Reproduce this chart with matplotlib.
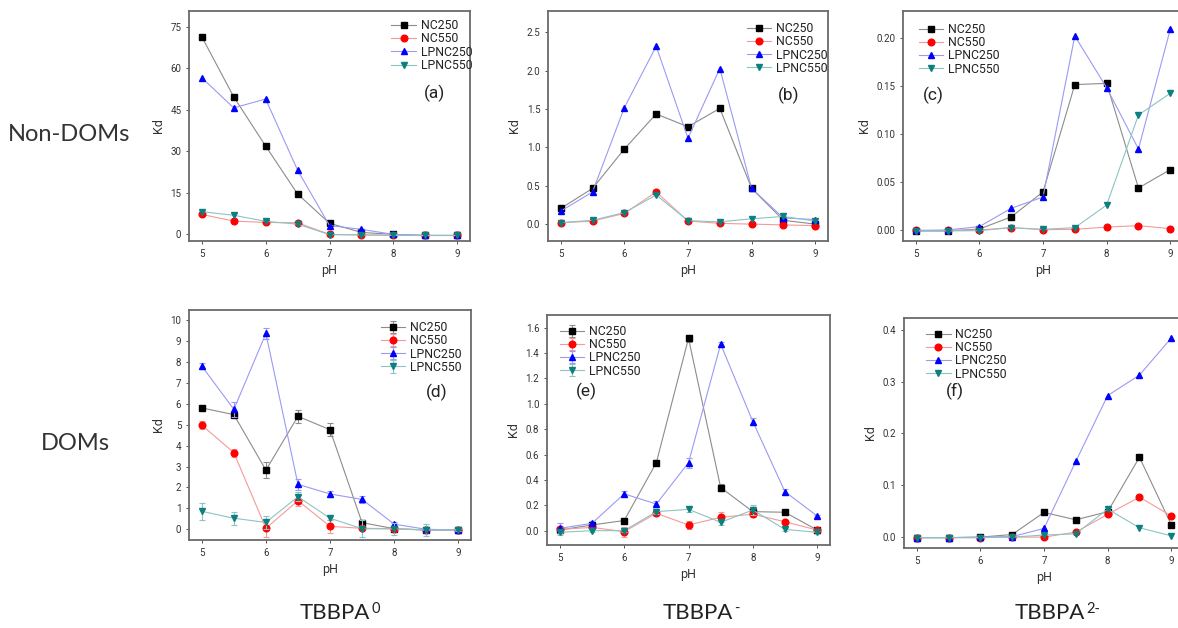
import matplotlib
matplotlib.use("Agg")
import matplotlib.pyplot as plt
import numpy as np

ph = [5, 5.5, 6, 6.5, 7, 7.5, 8, 8.5, 9]
series_names = ["NC250", "NC550", "LPNC250", "LPNC550"]

# (a) Non-DOMs, TBBPA0
a_nc250 = [71.4, 49.7, 31.9, 14.6, 4.0, 0.7, 0.0, -0.4, -0.4]
a_nc550 = [7.2, 4.8, 4.3, 4.2, 0.0, -0.2, -0.2, -0.4, -0.4]
a_lpnc250 = [56.6, 45.7, 48.9, 23.2, 3.2, 1.8, 0.0, -0.4, -0.4]
a_lpnc550 = [8.2, 6.9, 4.7, 3.7, -0.1, -0.2, -0.4, -0.4, -0.4]

# (b) Non-DOMs, TBBPA-
b_nc250 = [0.205, 0.466, 0.98, 1.437, 1.27, 1.51, 0.466, 0.05, 0.0]
b_nc550 = [0.017, 0.04, 0.14, 0.42, 0.04, 0.01, 0.0, -0.01, -0.02]
b_lpnc250 = [0.17, 0.42, 1.52, 2.32, 1.12, 2.03, 0.466, 0.08, 0.06]
b_lpnc550 = [0.02, 0.05, 0.15, 0.38, 0.045, 0.03, 0.07, 0.10, 0.04]

# (c) Non-DOMs, TBBPA2-
c_nc250 = [-0.001, -0.001, 0.001, 0.0136, 0.0397, 0.1517, 0.153, 0.0438, 0.063]
c_nc550 = [-0.0005, -0.0005, 0.0, 0.0024, 0.0003, 0.0007, 0.003, 0.0045, 0.0014]
c_lpnc250 = [-0.0005, 0.0, 0.0035, 0.0226, 0.0344, 0.2024, 0.1485, 0.0845, 0.2094]
c_lpnc550 = [-0.001, -0.001, -0.0007, 0.0024, 0.0007, 0.0024, 0.026, 0.12, 0.1426]

# (d) DOMs, TBBPA0
d_nc250 = [5.8, 5.48, 2.83, 5.4, 4.76, 0.32, 0.03, -0.03, -0.03]
d_nc550 = [4.98, 3.66, 0.05, 1.37, 0.14, 0.05, 0.03, -0.03, -0.03]
d_lpnc250 = [7.8, 5.73, 9.36, 2.15, 1.69, 1.43, 0.25, 0.0, -0.03]
d_lpnc550 = [0.86, 0.53, 0.33, 1.56, 0.53, 0.03, 0.02, -0.03, -0.03]
d_nc250_err = [0.1, 0.12, 0.4, 0.3, 0.3, 0.1, 0.05, 0.05, 0.03]
d_nc550_err = [0.2, 0.2, 0.4, 0.25, 0.3, 0.1, 0.1, 0.05, 0.03]
d_lpnc250_err = [0.15, 0.35, 0.25, 0.25, 0.15, 0.15, 0.1, 0.05, 0.03]
d_lpnc550_err = [0.4, 0.3, 0.3, 0.2, 0.1, 0.4, 0.3, 0.3, 0.05]

# (e) DOMs, TBBPA-
e_nc250 = [0.005, 0.045, 0.08, 0.536, 1.516, 0.34, 0.15, 0.145, 0.005]
e_nc550 = [0.01, 0.026, -0.008, 0.137, 0.045, 0.105, 0.13, 0.07, 0.005]
e_lpnc250 = [0.018, 0.058, 0.29, 0.21, 0.536, 1.47, 0.86, 0.307, 0.116]
e_lpnc550 = [-0.013, 0.0, 0.0, 0.15, 0.168, 0.066, 0.163, 0.01, -0.013]
e_nc250_err = [0.01, 0.01, 0.02, 0.02, 0.03, 0.03, 0.02, 0.01, 0.01]
e_nc550_err = [0.01, 0.01, 0.04, 0.02, 0.03, 0.04, 0.02, 0.01, 0.01]
e_lpnc250_err = [0.04, 0.02, 0.02, 0.02, 0.04, 0.02, 0.03, 0.02, 0.01]
e_lpnc550_err = [0.02, 0.01, 0.01, 0.02, 0.02, 0.02, 0.04, 0.01, 0.01]

# (f) DOMs, TBBPA2-
f_nc250 = [-0.001, -0.001, 0.0, 0.005, 0.0476, 0.0334, 0.049, 0.154, 0.024]
f_nc550 = [-0.001, -0.001, -0.001, 0.0, 0.0, 0.0096, 0.044, 0.077, 0.041]
f_lpnc250 = [-0.001, -0.001, 0.0, 0.001, 0.0167, 0.146, 0.273, 0.3125, 0.384]
f_lpnc550 = [-0.001, -0.001, -0.001, 0.0, 0.004, 0.0064, 0.054, 0.018, 0.0026]

row_labels = ["Non-DOMs", "DOMs"]
col_labels = ["TBBPA", "TBBPA", "TBBPA"]
col_sups = ["0", "-", "2-"]

marker_colors = ["black", "#ff0000", "#0000ff", "#0e7f7f"]
line_colors = ["#8c8c8c", "#f59a9a", "#9a9af5", "#8cc4c4"]
markers = ["s", "o", "^", "v"]

plt.rcParams["font.family"] = ["Roboto", "DejaVu Sans"]

fig = plt.figure(figsize=(11.78, 6.28), dpi=100)
W, H = 1178, 628


def add_panel(left, right, top, bottom, data, errs, ylim, yticks, yfmt,
              tag, tag_pos, leg_pos):
    ax = fig.add_axes([left / W, (H - bottom) / H, (right - left) / W, (bottom - top) / H])
    for k in range(4):
        if errs is not None:
            ax.errorbar(ph, data[k], yerr=errs[k], color=line_colors[k], lw=0.8,
                        elinewidth=0.8, capsize=2.5, capthick=0.8, marker=markers[k],
                        ms=4.8, mfc=marker_colors[k], mec=marker_colors[k],
                        label=series_names[k], zorder=3 + k)
        else:
            ax.plot(ph, data[k], color=line_colors[k], lw=0.8, marker=markers[k],
                    ms=4.8, mfc=marker_colors[k], mec=marker_colors[k],
                    label=series_names[k], zorder=3 + k)
    ax.set_xlim(4.8, 9.2)
    ax.set_ylim(*ylim)
    ax.set_xticks([5, 6, 7, 8, 9])
    ax.set_yticks(yticks)
    ax.set_yticklabels([yfmt.format(t) for t in yticks])
    ax.tick_params(labelsize=7, colors="#333333", length=2, width=0.6)
    for s in ax.spines.values():
        s.set_color("#6a6a6a")
        s.set_linewidth(1.3)
    ax.set_xlabel("pH", fontsize=9, color="#333333", labelpad=4)
    ax.set_ylabel("Kd", fontsize=9, color="#333333", labelpad=4)
    ax.text(tag_pos[0], tag_pos[1], tag, transform=ax.transAxes, fontsize=12.5,
            color="#222222", ha="center", va="center")
    leg = ax.legend(loc="upper left", bbox_to_anchor=leg_pos, frameon=False,
                    fontsize=8.8, borderaxespad=0, borderpad=0, handlelength=2.0,
                    handletextpad=0.4, labelspacing=0.02)
    for t in leg.get_texts():
        t.set_color("#222222")
    return ax


add_panel(189, 470, 11, 241, [a_nc250, a_nc550, a_lpnc250, a_lpnc550], None,
          (-2.4, 80.7), [0, 15, 30, 45, 60, 75], "{:.0f}", "(a)", (0.875, 0.64), (0.72, 0.965))
add_panel(548, 828, 11, 241, [b_nc250, b_nc550, b_lpnc250, b_lpnc550], None,
          (-0.22, 2.78), [0, 0.5, 1.0, 1.5, 2.0, 2.5], "{:.1f}", "(b)", (0.86, 0.635), (0.71, 0.952))
add_panel(903, 1183, 11, 241, [c_nc250, c_nc550, c_lpnc250, c_lpnc550], None,
          (-0.0115, 0.2285), [0, 0.05, 0.10, 0.15, 0.20], "{:.2f}", "(c)", (0.11, 0.635), (0.057, 0.948))
add_panel(189, 471, 310, 540, [d_nc250, d_nc550, d_lpnc250, d_lpnc550],
          [d_nc250_err, d_nc550_err, d_lpnc250_err, d_lpnc550_err],
          (-0.51, 10.48), list(range(0, 11)), "{:.0f}", "(d)", (0.88, 0.64), (0.68, 0.952))
add_panel(547, 830, 315, 545, [e_nc250, e_nc550, e_lpnc250, e_lpnc550],
          [e_nc250_err, e_nc550_err, e_lpnc250_err, e_lpnc550_err],
          (-0.113, 1.70), [0, 0.2, 0.4, 0.6, 0.8, 1.0, 1.2, 1.4, 1.6], "{:.1f}", "(e)",
          (0.14, 0.67), (0.046, 0.957))
ax_f = add_panel(904, 1184, 318, 548, [f_nc250, f_nc550, f_lpnc250, f_lpnc550], None,
                 (-0.021, 0.4226), [0, 0.1, 0.2, 0.3, 0.4], "{:.1f}", "(f)", (0.18, 0.68), (0.079, 0.957))

# row and column captions
fig.text(69 / W, 1 - 134 / H, row_labels[0], fontsize=17, family="Lato",
         color="#333333", ha="center", va="center")
fig.text(75 / W, 1 - 443 / H, row_labels[1], fontsize=17, family="Lato",
         color="#333333", ha="center", va="center")
for x0, lab, sup in zip([300, 663, 1015], col_labels, col_sups):
    t = fig.text(x0 / W, 1 - 613 / H, lab, fontsize=16, family="Lato",
                 color="#222222", ha="left", va="center")
    ax_f.annotate(sup, xy=(1.0, 1.0), xycoords=t, xytext=(0.5, 1), textcoords="offset points",
                  fontsize=10.5, family="Lato", color="#222222", ha="left", va="top",
                  annotation_clip=False)

fig.savefig("out.png", dpi=100)
